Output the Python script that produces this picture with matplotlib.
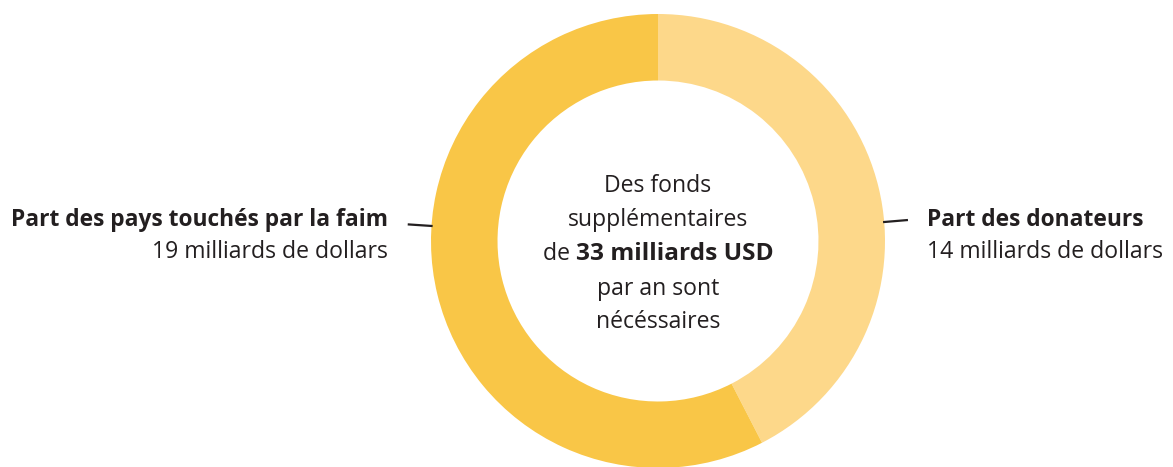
import matplotlib
matplotlib.use("Agg")
import matplotlib.pyplot as plt
import numpy as np

# Data
categories = ["Part des donateurs", "Part des pays touchés par la faim"]
values = [14, 19]
value_labels = ["14 milliards de dollars", "19 milliards de dollars"]
colors = ["#FDD88A", "#F9C647"]
center_lines = ["Des fonds", "supplémentaires", None, "par an sont", "nécéssaires"]
center_bold = ("de ", "33 milliards USD")

W, H, DPI = 1173, 467, 100
fig = plt.figure(figsize=(W / DPI, H / DPI), dpi=DPI)
ax = fig.add_axes([0, 0, 1, 1])
R_PX = 227.0
cx, cy = 658.0, 241.0

ax.pie(values, colors=colors, startangle=90, counterclock=False, radius=1.0,
       wedgeprops=dict(width=0.293, linewidth=0), center=(0, 0), frame=True)
ax.set_xlim(-cx / R_PX, (W - cx) / R_PX)
ax.set_ylim(-(H - cy) / R_PX, cy / R_PX)
ax.set_aspect("auto")
ax.axis("off")

FONT = "Open Sans"
TC = "#231F20"
FS = 16.6
FSB = 16.4

# leader lines
for ang in (4.8, 176.2):
    a = np.deg2rad(ang)
    ax.plot([np.cos(a) * 0.995, np.cos(a) * 1.105], [np.sin(a) * 0.995, np.sin(a) * 1.105],
            color=TC, lw=1.6, solid_capstyle="butt")

def px(x, y):
    return ((x - cx) / R_PX, (cy - y) / R_PX)

# right label
x, y = px(927, 226)
ax.text(x, y, categories[0], fontsize=FSB, fontweight="bold", family=FONT, color=TC, ha="left", va="baseline")
x, y = px(927, 258)
ax.text(x, y, value_labels[0], fontsize=FS, family=FONT, color=TC, ha="left", va="baseline")
# left label
x, y = px(388, 226)
ax.text(x, y, categories[1], fontsize=FSB, fontweight="bold", family=FONT, color=TC, ha="right", va="baseline")
x, y = px(388, 258)
ax.text(x, y, value_labels[1], fontsize=FS, family=FONT, color=TC, ha="right", va="baseline")

# center text
baselines = [192, 226, 260, 295, 328]
for line, by in zip(center_lines, baselines):
    if line is None:
        continue
    x, y = px(658, by)
    ax.text(x, y, line, fontsize=FS, family=FONT, color=TC, ha="center", va="baseline")

fig.canvas.draw()
r = fig.canvas.get_renderer()
x, y = px(658, baselines[2])
t1 = ax.text(0, y, center_bold[0], fontsize=FS, family=FONT, color=TC, ha="left", va="baseline")
t2 = ax.text(0, y, center_bold[1], fontsize=17.6, family=FONT, fontweight="bold", color=TC, ha="left", va="baseline")
w1 = t1.get_window_extent(r).width / R_PX
w2 = t2.get_window_extent(r).width / R_PX
start = -(w1 + w2) / 2
t1.set_x(start)
t2.set_x(start + w1)

fig.savefig("out.png", dpi=DPI, facecolor="white")
